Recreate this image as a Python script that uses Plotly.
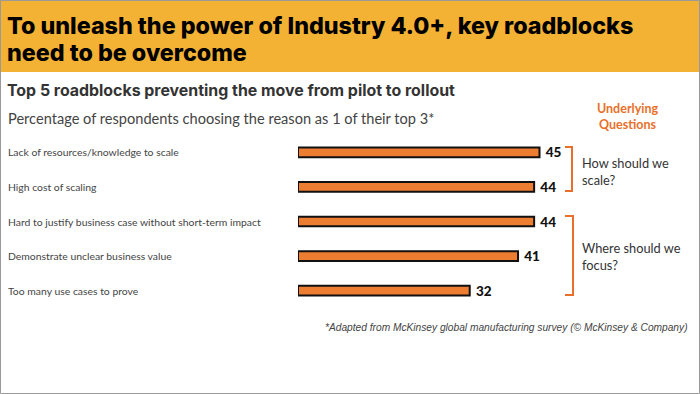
import plotly.graph_objects as go

categories = [
    "Lack of resources/knowledge to scale",
    "High cost of scaling",
    "Hard to justify business case without short-term impact",
    "Demonstrate unclear business value",
    "Too many use cases to prove",
]
values = [45, 44, 44, 41, 32]
value_labels = ["45", "44", "44", "41", "32"]

title_line1 = "To unleash the power of Industry 4.0+, key roadblocks"
title_line2 = "need to be overcome"
subtitle = "Top 5 roadblocks preventing the move from pilot to rollout"
subsubtitle = "Percentage of respondents choosing the reason as 1 of their top 3*"
question_header = "Underlying<br>Questions"
question1 = "How should we<br>scale?"
question2 = "Where should we<br>focus?"
footnote = "*Adapted from McKinsey global manufacturing survey (© McKinsey & Company)"

W, H = 700, 394
L, R = 298, 80
T, B = 135, 86
PW = W - L - R
PH = H - T - B
XMAX = 60


def px(x):
    return (x - L) / PW


def py(y):
    return (H - B - y) / PH


ORANGE = "#ED7D31"
TXT_ORANGE = "#E8702A"
BAND = "#F4B235"
FONT = "Lato"

fig = go.Figure()
fig.add_trace(go.Bar(
    x=values,
    y=categories,
    orientation="h",
    width=0.28,
    marker=dict(color=ORANGE, line=dict(color="#111111", width=2)),
    text=value_labels,
    texttemplate="\u00a0%{text}",
    textposition="outside",
    constraintext="none",
    textfont=dict(family=FONT, size=13.5, color="#111111", weight=900),
    cliponaxis=False,
    hoverinfo="skip",
))

annotations = []
for c in categories:
    annotations.append(dict(
        x=px(6), xref="paper", y=c, yref="y", text=c, showarrow=False,
        xanchor="left", yanchor="middle",
        font=dict(family=FONT, size=10.4, color="#444444"),
    ))

annotations += [
    dict(x=px(5), y=py(25), xref="paper", yref="paper", text=title_line1,
         showarrow=False, xanchor="left", yanchor="middle",
         font=dict(family="Inter", size=23.3, color="#000000", weight=800)),
    dict(x=px(5), y=py(52), xref="paper", yref="paper", text=title_line2,
         showarrow=False, xanchor="left", yanchor="middle",
         font=dict(family="Inter", size=23.3, color="#000000", weight=800)),
    dict(x=px(5), y=py(90), xref="paper", yref="paper", text=subtitle,
         showarrow=False, xanchor="left", yanchor="middle",
         font=dict(family="Inter", size=15.9, color="#333333", weight="bold")),
    dict(x=px(6), y=py(118), xref="paper", yref="paper", text=subsubtitle,
         showarrow=False, xanchor="left", yanchor="middle",
         font=dict(family=FONT, size=14.6, color="#444444")),
    dict(x=px(627), y=py(117), xref="paper", yref="paper", text=question_header,
         showarrow=False, xanchor="center", yanchor="middle",
         font=dict(family=FONT, size=12.5, color=TXT_ORANGE, weight="bold")),
    dict(x=px(580), y=py(171), xref="paper", yref="paper", text=question1,
         showarrow=False, xanchor="left", yanchor="middle", align="left",
         font=dict(family=FONT, size=12.8, color="#333333")),
    dict(x=px(580), y=py(256), xref="paper", yref="paper", text=question2,
         showarrow=False, xanchor="left", yanchor="middle", align="left",
         font=dict(family=FONT, size=12.8, color="#333333")),
    dict(x=px(690), y=py(327), xref="paper", yref="paper", text="<i>" + footnote + "</i>",
         showarrow=False, xanchor="right", yanchor="middle",
         font=dict(family="Liberation Sans", size=10.2, color="#444444")),
]


def bracket(x0, x1, y0, y1):
    return dict(
        type="path", xref="paper", yref="paper",
        path=f"M {px(x0)},{py(y0)} L {px(x1)},{py(y0)} L {px(x1)},{py(y1)} L {px(x0)},{py(y1)}",
        line=dict(color=TXT_ORANGE, width=2),
    )


shapes = [
    dict(type="rect", xref="paper", yref="paper", x0=px(0), x1=px(700), y0=py(72), y1=py(0),
         fillcolor=BAND, line=dict(width=0), layer="below"),
    dict(type="line", xref="paper", yref="paper", x0=px(0), x1=px(700), y0=py(0.5), y1=py(0.5),
         line=dict(color="#C99A30", width=1)),
    dict(type="rect", xref="paper", yref="paper", x0=px(0.5), x1=px(699.5), y0=py(393.5), y1=py(0.5),
         line=dict(color="#9A9A9A", width=1)),
    bracket(565, 572, 147, 191),
    bracket(565, 573, 216, 295),
]

fig.update_layout(
    width=W, height=H,
    margin=dict(l=L, r=R, t=T, b=B, pad=0),
    paper_bgcolor="white", plot_bgcolor="white",
    showlegend=False,
    xaxis=dict(range=[0, XMAX], visible=False, fixedrange=True),
    yaxis=dict(categoryorder="array", categoryarray=categories, autorange="reversed",
               visible=False, fixedrange=True),
    annotations=annotations,
    shapes=shapes,
    bargap=0.7,
)

fig.write_html("out.html", config={"displayModeBar": False},
               post_script="document.body.style.margin='0';document.body.style.overflow='hidden';")
